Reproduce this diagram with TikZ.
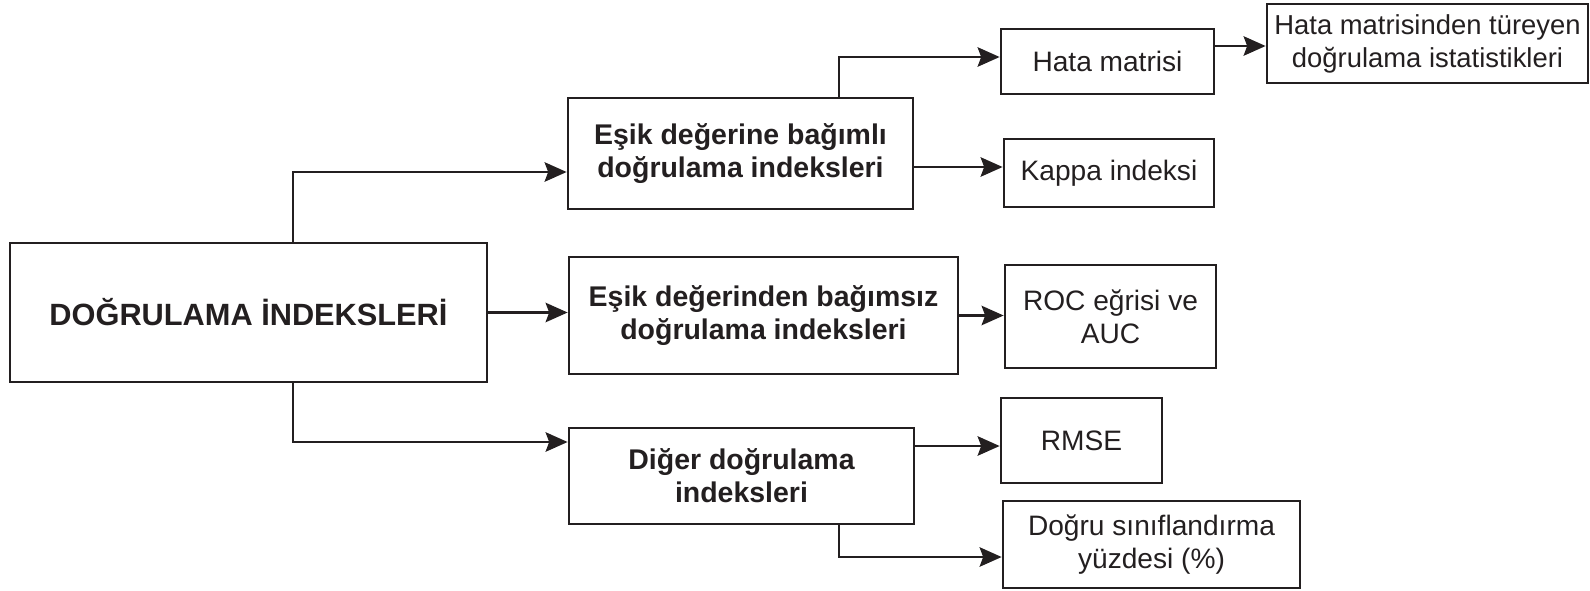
\documentclass[tikz,border=0pt]{standalone}
\usepackage{fontspec}
\setmainfont{Liberation Sans}
\usepackage{xcolor}
\usepackage{tikz}
\usetikzlibrary{positioning}
\usetikzlibrary{calc}
\usetikzlibrary{arrows.meta}
\definecolor{ink}{HTML}{231F20}

\begin{document}
\begin{tikzpicture}[
    box/.style={draw=ink, line width=1.55pt, inner sep=0pt, align=center, text=ink,
        font=\fontsize{16pt}{18.8pt}\selectfont},
    boldbox/.style={box, font=\fontsize{16.2pt}{18.8pt}\selectfont\bfseries},
    arr/.style={draw=ink, line width=1.55pt, -{Stealth[length=12.5pt, width=11pt, inset=2pt]}}]
    \useasboundingbox (0,0) rectangle (31.8,-11.8);

    \node [boldbox, minimum width=9.54cm, minimum height=2.78cm, font=\fontsize{17.5pt}{20pt}\selectfont\bfseries] (main) at (4.97,-6.25) {DOĞRULAMA İNDEKSLERİ};

    \node [boldbox, minimum width=6.90cm, minimum height=2.22cm] (esikbagimli) at (14.81,-3.07) {Eşik değerine bağımlı\\doğrulama indeksleri};
    \node [boldbox, minimum width=7.78cm, minimum height=2.34cm] (esikbagimsiz) at (15.27,-6.31) {Eşik değerinden bağımsız\\doğrulama indeksleri};
    \node [boldbox, minimum width=6.90cm, minimum height=1.92cm] (diger) at (14.83,-9.52) {Diğer doğrulama\\indeksleri};

    \node [box, minimum width=4.26cm, minimum height=1.30cm] (hata) at (22.15,-1.23) {Hata matrisi};
    \node [box, minimum width=6.42cm, minimum height=1.58cm, font=\fontsize{15.6pt}{18.8pt}\selectfont] (tureyen) at (28.55,-0.87) {Hata matrisinden türeyen\\doğrulama istatistikleri};
    \node [box, minimum width=4.20cm, minimum height=1.36cm] (kappa) at (22.18,-3.46) {Kappa indeksi};
    \node [box, minimum width=4.22cm, minimum height=2.06cm] (roc) at (22.21,-6.33) {ROC eğrisi ve\\AUC};
    \node [box, minimum width=3.22cm, minimum height=1.70cm] (rmse) at (21.63,-8.81) {RMSE};
    \node [box, minimum width=5.94cm, minimum height=1.74cm] (dogru) at (23.03,-10.89) {Doğru sınıflandırma\\yüzdesi (\%)};

    % first level
    \draw [arr] ([xshift=0.89cm]main.north) |- ([yshift=-0.37cm]esikbagimli.west);
    \draw [arr] (main.east) -- (main.east -| esikbagimsiz.west);
    \draw [arr] ([xshift=0.89cm]main.south) |- ([yshift=0.68cm]diger.west);

    % second level
    \draw [arr] ([xshift=1.97cm]esikbagimli.north) |- ([yshift=0.09cm]hata.west);
    \draw [arr] ([yshift=-0.27cm]esikbagimli.east) -- ([yshift=-0.27cm]esikbagimli.east -| kappa.west);
    \draw [arr] ([yshift=0.31cm]hata.east) -- ([yshift=0.31cm]hata.east -| tureyen.west);
    \draw [arr] (esikbagimsiz.east) -- (esikbagimsiz.east -| roc.west);
    \draw [arr] ([yshift=0.6cm]diger.east) -- ([yshift=0.6cm]diger.east -| rmse.west);
    \draw [arr] ([xshift=1.95cm]diger.south) |- ([yshift=-0.25cm]dogru.west);
\end{tikzpicture}
\end{document}
